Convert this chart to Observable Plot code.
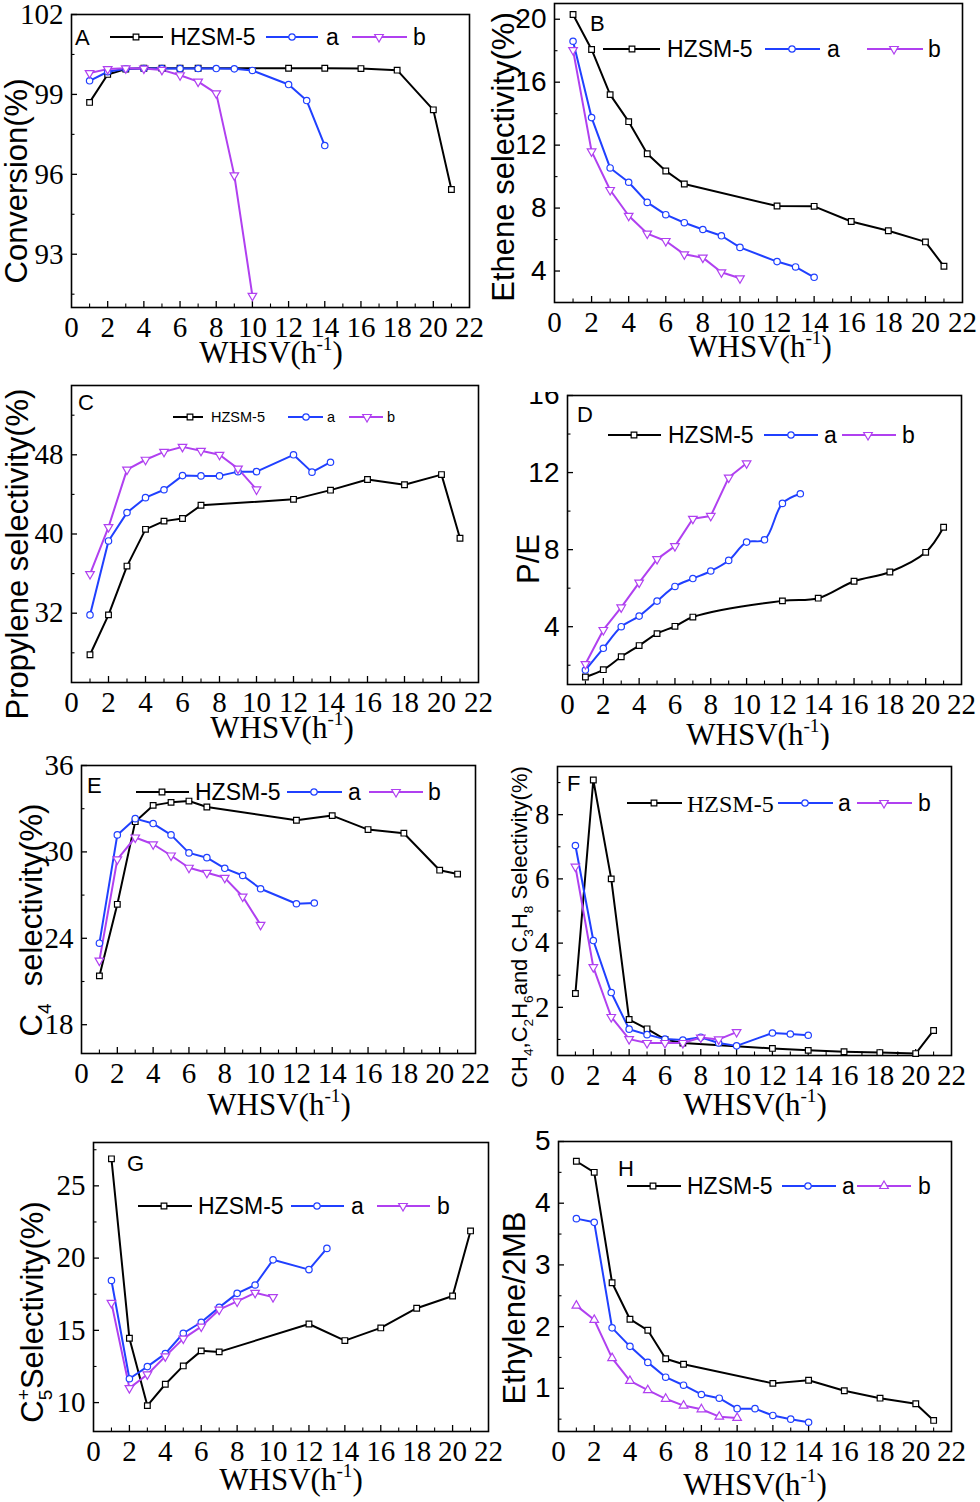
<!DOCTYPE html>
<html><head><meta charset="utf-8">
<script src="https://cdn.jsdelivr.net/npm/d3@7"></script>
<script src="https://cdn.jsdelivr.net/npm/@observablehq/plot@0.6"></script>
<style>
body{margin:0;background:#fff;color:#000}
#root{position:relative;width:980px;height:1502px;overflow:hidden;background:#fff}
.panel{position:absolute;width:490px}
.panel svg{overflow:visible}
.serif-lbl{font-family:"Liberation Serif","Times New Roman",serif !important}
.sans-lbl{font-family:"Liberation Sans",Arial,sans-serif !important}
</style></head><body><div id="root"></div>
<script>
// ---------- data ----------
const xHZSM = [1,2,3,4,5,6,7,12,14,16,18,20,21];
const xA13 = [1,2,3,4,5,6,7,8,9,10,12,13,14];
const xA12 = [1,2,3,4,5,6,7,8,9,10,12,13];
const xA1to13 = [1,2,3,4,5,6,7,8,9,10,11,12,13];
const xA1to14 = [1,2,3,4,5,6,7,8,9,10,11,12,13,14];
const xB10 = [1,2,3,4,5,6,7,8,9,10];
const xTickLabels = [0,2,4,6,8,10,12,14,16,18,20,22];
const xMajorTicks = [2,4,6,8,10,12,14,16,18,20];
const xMinorTicks = [1,3,5,7,9,11,13,15,17,19,21];
const seriesNames = ["HZSM-5","a","b"];

// A: conversion
const convHZSM = [98.7,99.75,99.95,99.98,99.98,99.98,99.98,99.98,99.98,99.97,99.91,98.42,95.43];
const convA = [99.51,99.85,99.96,99.97,99.97,99.97,99.97,99.97,99.96,99.9,99.37,98.77,97.08];
const convB = [99.8,99.95,99.98,99.97,99.92,99.72,99.48,99.04,95.96,91.44];
// B: ethene selectivity
const etheneHZSM = [20.3,18.08,15.21,13.49,11.45,10.36,9.53,8.13,8.11,7.15,6.56,5.85,4.3];
const etheneA = [18.6,13.75,10.55,9.64,8.36,7.58,7.07,6.64,6.24,5.5,4.6,4.26,3.6];
const etheneB = [18.04,11.6,9.15,7.51,6.38,5.91,5.06,4.85,3.92,3.54];
// C: propylene selectivity
const propHZSM = [27.8,31.83,36.76,40.47,41.3,41.56,42.9,43.5,44.43,45.5,44.98,46.0,39.57];
const propA = [31.83,39.3,42.16,43.67,44.47,45.9,45.87,45.87,46.3,46.3,48.0,46.25,47.25];
const propB = [35.95,40.7,46.5,47.5,48.3,48.8,48.4,48.0,46.6,44.5];
// D: P/E
const peHZSM = [1.39,1.77,2.44,3.02,3.64,4.02,4.5,5.34,5.48,6.36,6.84,7.86,9.16];
const peA = [1.75,2.88,4.0,4.55,5.33,6.09,6.5,6.89,7.44,8.39,8.51,10.4,10.9];
const peB = [2.06,3.83,5.0,6.29,7.51,8.18,9.6,9.75,11.74,12.48];
// E: C4 selectivity
const c4HZSM = [21.39,26.36,32.1,33.23,33.44,33.53,33.12,32.2,32.52,31.55,31.3,28.73,28.46];
const c4A = [23.66,31.18,32.31,31.97,31.18,29.93,29.6,28.86,28.36,27.44,26.4,26.45];
const c4B = [22.45,29.48,31.0,30.53,29.75,28.9,28.55,28.2,26.9,24.93];
// F: CH4, C2H6 and C3H8 selectivity
const alkHZSM = [2.43,9.08,6.0,1.62,1.33,1.0,0.89,0.72,0.66,0.62,0.59,0.56,1.28];
const alkA = [7.04,4.08,2.46,1.32,1.15,1.01,0.98,1.07,0.89,0.8,1.2,1.17,1.13];
const alkB = [6.38,3.25,1.7,1.01,0.89,0.89,0.89,1.06,1.0,1.23];
// G: C5+ selectivity
const c5HZSM = [26.87,14.45,9.79,11.27,12.54,13.58,13.51,15.44,14.29,15.17,16.53,17.38,21.88];
const c5A = [18.45,11.65,12.49,13.39,14.8,15.56,16.59,17.56,18.14,19.88,19.2,20.67];
const c5B = [16.9,11.0,11.95,13.2,14.43,15.26,16.43,17.0,17.6,17.3];
// H: ethylene / 2MB
const e2mbHZSM = [4.68,4.5,2.71,2.12,1.94,1.48,1.39,1.08,1.13,0.96,0.84,0.75,0.48];
const e2mbA = [3.75,3.69,1.98,1.68,1.42,1.18,1.05,0.9,0.84,0.67,0.67,0.56,0.5,0.45];
const e2mbB = [2.34,2.11,1.49,1.12,0.97,0.83,0.72,0.66,0.54,0.52];

// ---------- style ----------
const SERIF = "Liberation Serif, Times New Roman, serif";
const SANS = "Liberation Sans, Arial, sans-serif";
const COLORS = ["#000000","#2040ff","#b040f0"];
const sqrt3 = Math.sqrt(3);
const triDown = {draw(ctx, size){const y=-Math.sqrt(size/(sqrt3*3));ctx.moveTo(0,-y*2);ctx.lineTo(sqrt3*y,y);ctx.lineTo(-sqrt3*y,y);ctx.closePath();}};
const triUp = d3.symbolTriangle;
const MARK_R = 3.2;

const panels = [
 {left:0, top:0, margin:[14,21,68,71], yDomain:[91,102], yMajor:[93,96,99,102], yMinor:[91.5,94.5,97.5,100.5], yFont:SERIF,
  xs:[xHZSM,xA13,xB10], ys:[convHZSM,convA,convB], bSym:triDown,
  legend:{y:37, letter:"A", lx:75, ly:37, fs:23, items:[[110,163,136,170],[266,318,292,326],[352,407,379,413]]},
  yTitle:{parts:[["Conversion(%)"]], x:27, y:181, fs:31}, xTitle:{x:271, y:363}},
 {left:490, top:0, margin:[3,18,73,64], yDomain:[2,21], yMajor:[4,8,12,16,20], yMinor:[6,10,14,18], yFont:SANS,
  xs:[xHZSM,xA13,xB10], ys:[etheneHZSM,etheneA,etheneB], bSym:triDown,
  legend:{y:49, letter:"B", lx:100, ly:23, fs:23, items:[[113,170,142,177],[275,330,302,337],[377,433,404,438]]},
  yTitle:{parts:[["Ethene selectivity(%)"]], x:24, y:157, fs:31}, xTitle:{x:270, y:357}},
 {left:0, top:375, margin:[10,12,68,71], yDomain:[25,55], yMajor:[32,40,48], yMinor:[28,36,44,52], yFont:SERIF,
  xs:[xHZSM,xA13,xB10], ys:[propHZSM,propA,propB], bSym:triDown,
  legend:{y:42, letter:"C", lx:78, ly:27, fs:14.5, items:[[173,203,190,211],[288,323,306,327],[349,383,367,387]]},
  yTitle:{parts:[["Propylene selectivity(%)"]], x:28, y:179, fs:31}, xTitle:{x:282, y:363}},
 {left:490, top:375, margin:[20,19,66,77], yDomain:[1,16], yMajor:[4,8,12,16], yMinor:[2,6,10,14], yFont:SANS, clipTop:17,
  xs:[xHZSM,xA1to13,xB10], ys:[peHZSM,peA,peB], bSym:triDown, curves:["catmull-rom","catmull-rom","linear"],
  legend:{y:60, letter:"D", lx:87, ly:39, fs:23, items:[[118,171,144,178],[274,328,301,334],[352,406,378,412]]},
  yTitle:{parts:[["P/E"]], x:49, y:184, fs:31}, xTitle:{x:268, y:370}},
 {left:0, top:750, margin:[15,15,72,81], yDomain:[16,36], yMajor:[18,24,30,36], yMinor:[21,27,33], yFont:SERIF,
  xs:[xHZSM,xA12,xB10], ys:[c4HZSM,c4A,c4B], bSym:triDown,
  legend:{y:42, letter:"E", lx:87, ly:35, fs:23, items:[[136,189,162,195],[287,342,314,348],[369,423,396,428]]},
  yTitle:{parts:[["C"],["4","sub"],["  selectivity(%)"]], x:42, y:170, fs:31}, xTitle:{x:279, y:365}},
 {left:490, top:750, margin:[16,29,70,67], yDomain:[0.5,9.5], yMajor:[2,4,6,8], yMinor:[1,3,5,7,9], yFont:SERIF,
  xs:[xHZSM,xA13,xB10], ys:[alkHZSM,alkA,alkB], bSym:triDown, hzsmFont:SERIF,
  legend:{y:53, letter:"F", lx:77, ly:33, fs:23, items:[[137,192,164,197],[288,343,315,348],[367,422,394,428]]},
  yTitle:{parts:[["CH"],["4","sub"],[",C"],["2","sub"],["H"],["6","sub"],["and C"],["3","sub"],["H"],["8","sub"],[" Selectivity(%)"]], x:37, y:177, fs:22}, xTitle:{x:265, y:365}},
 {left:0, top:1125, height:377, margin:[17,2,71,93], yDomain:[8,28], yMajor:[10,15,20,25], yMinor:[12.5,17.5,22.5,27.5], yFont:SERIF,
  xs:[xHZSM,xA12,xB10], ys:[c5HZSM,c5A,c5B], bSym:triDown,
  legend:{y:81, letter:"G", lx:127, ly:38, fs:23, items:[[138,192,164,198],[291,344,317,351],[377,430,403,437]]},
  yTitle:{parts:[["C"],["5","sub"],["+","supback"],["Selectivity(%)"]], x:43, y:187, fs:31}, xTitle:{x:291, y:365}},
 {left:490, top:1125, height:377, margin:[16,29,71,68], yDomain:[0.3,5], yMajor:[1,2,3,4,5], yMinor:[0.5,1.5,2.5,3.5,4.5], yFont:SANS,
  xs:[xHZSM,xA1to14,xB10], ys:[e2mbHZSM,e2mbA,e2mbB], bSym:triUp,
  legend:{y:61, letter:"H", lx:128, ly:43, fs:23, items:[[137,191,163,197],[292,346,318,352],[367,421,394,428]]},
  yTitle:{parts:[["Ethylene/2MB"]], x:35, y:183, fs:31}, xTitle:{x:265, y:370}}
];

function richText(sel, parts, fs){
  const subFs = fs*0.62, subShift = fs*0.28, supShift = fs*0.42;
  let cur = 0, lastSubW = 0;
  for (const [t, kind] of parts){
    const target = kind==="sub" ? subShift : (kind==="sup"||kind==="supback") ? -supShift : 0;
    const ts = sel.append("tspan").text(t).attr("dy", target-cur);
    if (kind==="sub"||kind==="sup"||kind==="supback") ts.attr("font-size", subFs);
    if (kind==="supback") ts.attr("dx", -lastSubW);
    if (kind==="sub") lastSubW = t.length*0.556*subFs;
    cur = target;
  }
}

const fmt = d3.format("~g");

function makePanel(cfg){
  const W = 490, H = cfg.height || 375;
  const [mt, mr, mb, ml] = cfg.margin;
  const innerW = W-ml-mr, innerH = H-mt-mb;
  const syms = [d3.symbolSquare, d3.symbolCircle, cfg.bSym];
  const yFs = cfg.yFont===SANS ? 28 : 29;
  const marks = [
    Plot.frame({stroke:"#000", strokeWidth:1.6}),
    Plot.tickX(xMajorTicks, {x:d=>d, insetTop:innerH-6, stroke:"#000", strokeWidth:1.3}),
    Plot.tickX(xMinorTicks, {x:d=>d, insetTop:innerH-3.5, stroke:"#000", strokeWidth:1.1}),
    Plot.tickY(cfg.yMajor, {y:d=>d, insetRight:innerW-6, stroke:"#000", strokeWidth:1.3}),
    Plot.tickY(cfg.yMinor, {y:d=>d, insetRight:innerW-3.5, stroke:"#000", strokeWidth:1.1}),
    Plot.axisX({ticks:xTickLabels, tickSize:0, tickPadding:9, fontSize:29, fontFamily:SERIF, tickFormat:fmt, label:null}),
    Plot.axisY({ticks:cfg.yMajor, tickSize:0, tickPadding:8, fontSize:yFs, fontFamily:cfg.yFont, tickFormat:fmt, label:null})
  ];
  for (let s=0; s<3; s++){
    const data = cfg.xs[s].map((x,i)=>({x, y:cfg.ys[s][i], series:seriesNames[s]}));
    marks.push(Plot.line(data, {x:"x", y:"y", stroke:COLORS[s], strokeWidth:2, curve:(cfg.curves?cfg.curves[s]:"linear")}));
  }
  for (let s=0; s<3; s++){
    const data = cfg.xs[s].map((x,i)=>({x, y:cfg.ys[s][i], series:seriesNames[s]}));
    marks.push(Plot.dot(data, {x:"x", y:"y", symbol:syms[s], r:MARK_R, stroke:COLORS[s], fill:"white", strokeWidth:1.2}));
  }
  const svg = Plot.plot({
    width:W, height:H, marginTop:mt, marginRight:mr, marginBottom:mb, marginLeft:ml,
    x:{domain:[0,22], label:null}, y:{domain:cfg.yDomain, label:null},
    style:{background:"transparent", overflow:"visible", color:"#000", fontFamily:SERIF},
    marks
  });
  // enforce fonts of Plot's tick labels on each text element
  svg.querySelectorAll("text").forEach(t=>{
    const grp = t.closest("g[aria-label]");
    const lab = grp ? grp.getAttribute("aria-label") : "";
    const anc = t.closest("[text-anchor]");
    const isY = lab.indexOf("y-axis")>=0 || (anc && anc.getAttribute("text-anchor")==="end");
    const sans = isY && cfg.yFont===SANS;
    t.setAttribute("class", sans ? "sans-lbl" : "serif-lbl");
    t.style.fontSize = (isY ? yFs : 29) + "px";
  });
  const root = d3.select(svg);
  const g = root.append("g").attr("text-anchor","start");
  // legend
  const L = cfg.legend;
  g.append("text").text(L.letter).attr("x", L.lx).attr("y", L.ly+0.36*22).attr("text-anchor","start")
    .attr("class","sans-lbl").attr("font-size", 22).attr("fill","#000");
  L.items.forEach(([x1,x2,mx,tx], s)=>{
    g.append("line").attr("x1",x1).attr("x2",x2).attr("y1",L.y).attr("y2",L.y)
      .attr("stroke",COLORS[s]).attr("stroke-width",2);
    g.append("path").attr("d", d3.symbol().type(syms[s]).size(Math.PI*MARK_R*MARK_R)())
      .attr("transform",`translate(${mx},${L.y})`).attr("fill","white").attr("stroke",COLORS[s]).attr("stroke-width",1.2);
    const serifItem = (s===0 && cfg.hzsmFont);
    const fs = serifItem ? 24 : L.fs;
    g.append("text").text(seriesNames[s]).attr("x",tx).attr("y",L.y+0.36*fs).attr("text-anchor","start")
      .attr("class", serifItem ? "serif-lbl" : "sans-lbl").attr("font-size",fs).attr("fill","#000");
  });
  // y title
  const yt = cfg.yTitle;
  const ytText = g.append("text").attr("transform",`translate(${yt.x},${yt.y}) rotate(-90)`)
    .attr("text-anchor","middle").attr("class","sans-lbl").attr("font-size",yt.fs).attr("fill","#000");
  richText(ytText, yt.parts, yt.fs);
  // x title
  const xt = cfg.xTitle;
  const xtText = g.append("text").attr("x",xt.x).attr("y",xt.y).attr("text-anchor","middle")
    .attr("class","serif-lbl").attr("font-size",31).attr("fill","#000");
  richText(xtText, [["WHSV(h"],["-1","sup"],[")"]], 31);
  const div = document.createElement("div");
  div.className = "panel";
  div.style.left = cfg.left+"px"; div.style.top = cfg.top+"px";
  if (cfg.clipTop) div.style.clipPath = `inset(${cfg.clipTop}px 0 0 0)`;
  div.appendChild(svg);
  document.getElementById("root").appendChild(div);
}
panels.forEach(makePanel);
</script></body></html>
